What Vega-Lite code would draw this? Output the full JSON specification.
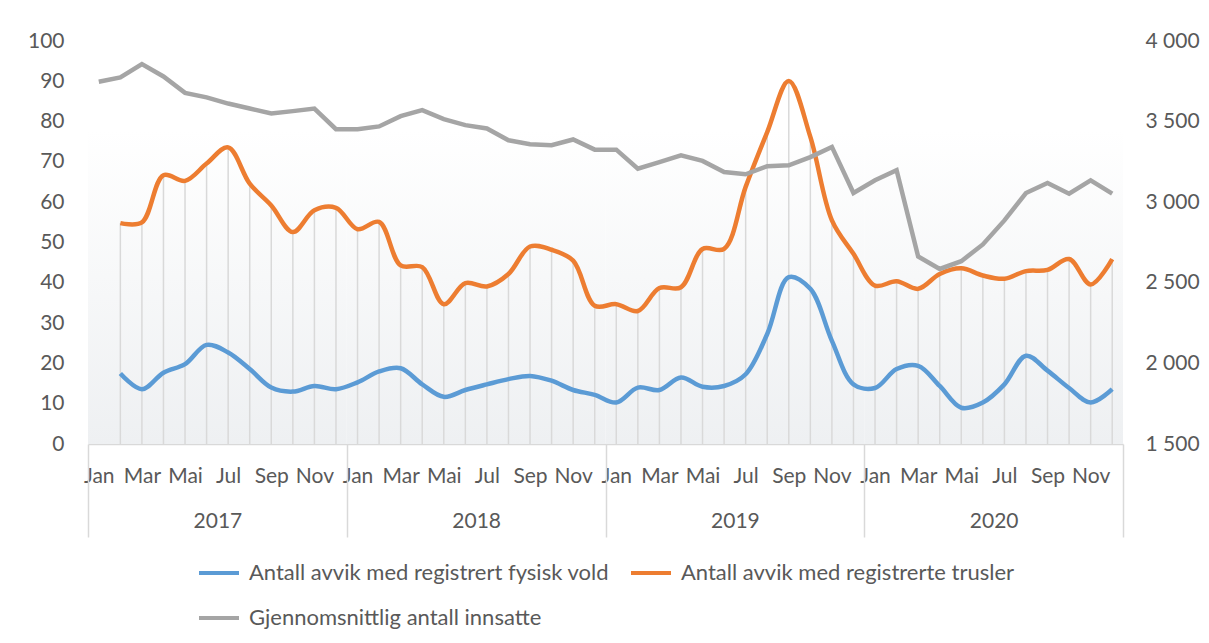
{
  "$schema": "https://vega.github.io/schema/vega-lite/v6.json",
  "width": 1035,
  "height": 403,
  "autosize": {"type": "none"},
  "padding": {"left": 88, "top": 41, "right": 86, "bottom": 199},
  "background": "#ffffff",
  "config": {
    "font": "Lato",
    "view": {"stroke": null},
    "axis": {"labelFont": "Lato", "labelFontSize": 21, "labelColor": "#595959", "grid": false, "title": null},
    "legend": {"labelFont": "Lato", "labelFontSize": 22, "labelColor": "#595959", "labelLimit": 0}
  },
  "datasets": {
    "aar": [{"aar": "2017"}, {"aar": "2018"}, {"aar": "2019"}, {"aar": "2020"}],
    "maaneder": [
      {"m": "2017-01", "vold": null, "trusler": null, "innsatte": 3747},
      {"m": "2017-02", "vold": 17.5, "trusler": 54.8, "innsatte": 3774},
      {"m": "2017-03", "vold": 13.6, "trusler": 55.0, "innsatte": 3857},
      {"m": "2017-04", "vold": 17.7, "trusler": 66.7, "innsatte": 3780},
      {"m": "2017-05", "vold": 19.8, "trusler": 65.3, "innsatte": 3678},
      {"m": "2017-06", "vold": 24.6, "trusler": 69.6, "innsatte": 3650},
      {"m": "2017-07", "vold": 22.7, "trusler": 73.6, "innsatte": 3612},
      {"m": "2017-08", "vold": 18.6, "trusler": 64.6, "innsatte": 3581},
      {"m": "2017-09", "vold": 14.0, "trusler": 59.2, "innsatte": 3550},
      {"m": "2017-10", "vold": 13.0, "trusler": 52.6, "innsatte": 3565},
      {"m": "2017-11", "vold": 14.4, "trusler": 58.0, "innsatte": 3581},
      {"m": "2017-12", "vold": 13.6, "trusler": 58.6, "innsatte": 3453},
      {"m": "2018-01", "vold": 15.3, "trusler": 53.3, "innsatte": 3453},
      {"m": "2018-02", "vold": 18.0, "trusler": 55.1, "innsatte": 3470},
      {"m": "2018-03", "vold": 18.8, "trusler": 44.3, "innsatte": 3534},
      {"m": "2018-04", "vold": 14.8, "trusler": 43.9, "innsatte": 3571},
      {"m": "2018-05", "vold": 11.7, "trusler": 34.7, "innsatte": 3515},
      {"m": "2018-06", "vold": 13.4, "trusler": 39.9, "innsatte": 3478},
      {"m": "2018-07", "vold": 14.8, "trusler": 39.1, "innsatte": 3457},
      {"m": "2018-08", "vold": 16.1, "trusler": 42.2, "innsatte": 3384},
      {"m": "2018-09", "vold": 16.9, "trusler": 49.0, "innsatte": 3359},
      {"m": "2018-10", "vold": 15.7, "trusler": 48.2, "innsatte": 3353},
      {"m": "2018-11", "vold": 13.4, "trusler": 45.5, "innsatte": 3389},
      {"m": "2018-12", "vold": 12.2, "trusler": 34.3, "innsatte": 3326},
      {"m": "2019-01", "vold": 10.3, "trusler": 34.7, "innsatte": 3326},
      {"m": "2019-02", "vold": 14.0, "trusler": 33.0, "innsatte": 3208},
      {"m": "2019-03", "vold": 13.4, "trusler": 38.7, "innsatte": 3249},
      {"m": "2019-04", "vold": 16.5, "trusler": 38.9, "innsatte": 3291},
      {"m": "2019-05", "vold": 14.2, "trusler": 48.4, "innsatte": 3256},
      {"m": "2019-06", "vold": 14.4, "trusler": 48.4, "innsatte": 3187},
      {"m": "2019-07", "vold": 17.3, "trusler": 63.8, "innsatte": 3173},
      {"m": "2019-08", "vold": 27.3, "trusler": 77.4, "innsatte": 3223},
      {"m": "2019-09", "vold": 41.4, "trusler": 90.1, "innsatte": 3229},
      {"m": "2019-10", "vold": 38.5, "trusler": 76.2, "innsatte": 3280},
      {"m": "2019-11", "vold": 25.6, "trusler": 55.5, "innsatte": 3343},
      {"m": "2019-12", "vold": 14.8, "trusler": 47.2, "innsatte": 3057},
      {"m": "2020-01", "vold": 13.9, "trusler": 39.3, "innsatte": 3136},
      {"m": "2020-02", "vold": 18.6, "trusler": 40.4, "innsatte": 3198},
      {"m": "2020-03", "vold": 19.4, "trusler": 38.5, "innsatte": 2663},
      {"m": "2020-04", "vold": 14.4, "trusler": 42.2, "innsatte": 2586},
      {"m": "2020-05", "vold": 9.0, "trusler": 43.6, "innsatte": 2634},
      {"m": "2020-06", "vold": 10.3, "trusler": 41.8, "innsatte": 2738},
      {"m": "2020-07", "vold": 14.8, "trusler": 41.0, "innsatte": 2887},
      {"m": "2020-08", "vold": 21.9, "trusler": 42.9, "innsatte": 3057},
      {"m": "2020-09", "vold": 18.2, "trusler": 43.2, "innsatte": 3119},
      {"m": "2020-10", "vold": 13.9, "trusler": 45.9, "innsatte": 3053},
      {"m": "2020-11", "vold": 10.3, "trusler": 39.6, "innsatte": 3136},
      {"m": "2020-12", "vold": 13.6, "trusler": 45.9, "innsatte": 3053}
    ]
  },
  "layer": [
    {
      "data": {"name": "aar"},
      "mark": {
        "type": "rect",
        "color": {
          "gradient": "linear", "x1": 0, "y1": 0, "x2": 0, "y2": 1,
          "stops": [{"offset": 0, "color": "#ffffff"}, {"offset": 1, "color": "#eef0f2"}]
        }
      },
      "encoding": {
        "x": {
          "field": "aar", "type": "ordinal",
          "scale": {"type": "band", "paddingInner": 0, "paddingOuter": 0},
          "axis": {
            "orient": "bottom", "domain": false, "tickBand": "extent",
            "tickSize": 93, "tickColor": "#d9d9d9", "tickWidth": 1.5,
            "labelPadding": -27, "labelAngle": 0
          }
        },
        "y": {"datum": 0, "type": "quantitative", "scale": {"domain": [0, 100]}, "axis": null},
        "y2": {"datum": 78}
      }
    },
    {
      "data": {"name": "maaneder"},
      "encoding": {
        "x": {
          "field": "m", "type": "ordinal",
          "scale": {"type": "point", "padding": 0.5},
          "axis": {
            "orient": "bottom",
            "values": ["2017-01","2017-03","2017-05","2017-07","2017-09","2017-11","2018-01","2018-03","2018-05","2018-07","2018-09","2018-11","2019-01","2019-03","2019-05","2019-07","2019-09","2019-11","2020-01","2020-03","2020-05","2020-07","2020-09","2020-11"],
            "labelExpr": "['Jan','Feb','Mar','Apr','Mai','Jun','Jul','Aug','Sep','Okt','Nov','Des'][toNumber(slice(datum.value, 5)) - 1]",
            "labelAngle": 0, "labelOverlap": false,
            "domain": true, "domainColor": "#d9d9d9", "domainWidth": 1.5,
            "ticks": false, "tickSize": 0, "labelPadding": 21
          }
        }
      },
      "layer": [
        {
          "transform": [{"filter": "isValid(datum.trusler)"}],
          "mark": {"type": "rule", "color": "#d9d9d9", "strokeWidth": 1.5},
          "encoding": {
            "y": {
              "field": "trusler", "type": "quantitative",
              "scale": {"domain": [0, 100]},
              "axis": {
                "orient": "left", "values": [0, 10, 20, 30, 40, 50, 60, 70, 80, 90, 100],
                "domain": false, "ticks": false, "labelPadding": 24
              }
            },
            "y2": {"datum": 0}
          }
        },
        {
          "transform": [{"fold": ["vold", "trusler"], "as": ["serie", "antall"]}],
          "mark": {"type": "line", "interpolate": "catmull-rom", "strokeWidth": 4.5},
          "encoding": {
            "y": {"field": "antall", "type": "quantitative", "scale": {"domain": [0, 100]}},
            "color": {
              "field": "serie", "type": "nominal",
              "scale": {"domain": ["vold", "trusler", "innsatte"], "range": ["#5b9bd5", "#ed7d31", "#a5a5a5"]},
              "legend": {
                "title": null, "orient": "none", "legendX": 109, "legendY": 510,
                "direction": "horizontal", "columns": 2,
                "symbolType": "stroke", "symbolSize": 1600, "symbolStrokeWidth": 4,
                "labelOffset": 8, "columnPadding": 14, "rowPadding": 12,
                "labelExpr": "datum.label == 'vold' ? 'Antall avvik med registrert fysisk vold' : datum.label == 'trusler' ? 'Antall avvik med registrerte trusler' : 'Gjennomsnittlig antall innsatte'"
              }
            }
          }
        }
      ]
    },
    {
      "data": {"name": "maaneder"},
      "mark": {"type": "line", "strokeWidth": 4.5},
      "encoding": {
        "x": {"field": "m", "type": "ordinal", "scale": {"type": "point", "padding": 0.5}, "axis": null},
        "y": {
          "field": "innsatte", "type": "quantitative",
          "scale": {"domain": [1500, 4000]},
          "axis": {
            "orient": "right", "values": [1500, 2000, 2500, 3000, 3500, 4000],
            "labelExpr": "replace(format(datum.value, ','), ',', ' ')",
            "domain": false, "ticks": false, "labelPadding": 22
          }
        },
        "color": {"datum": "innsatte"}
      }
    }
  ],
  "resolve": {
    "scale": {"x": "independent", "y": "independent"},
    "axis": {"x": "independent", "y": "independent"}
  }
}
